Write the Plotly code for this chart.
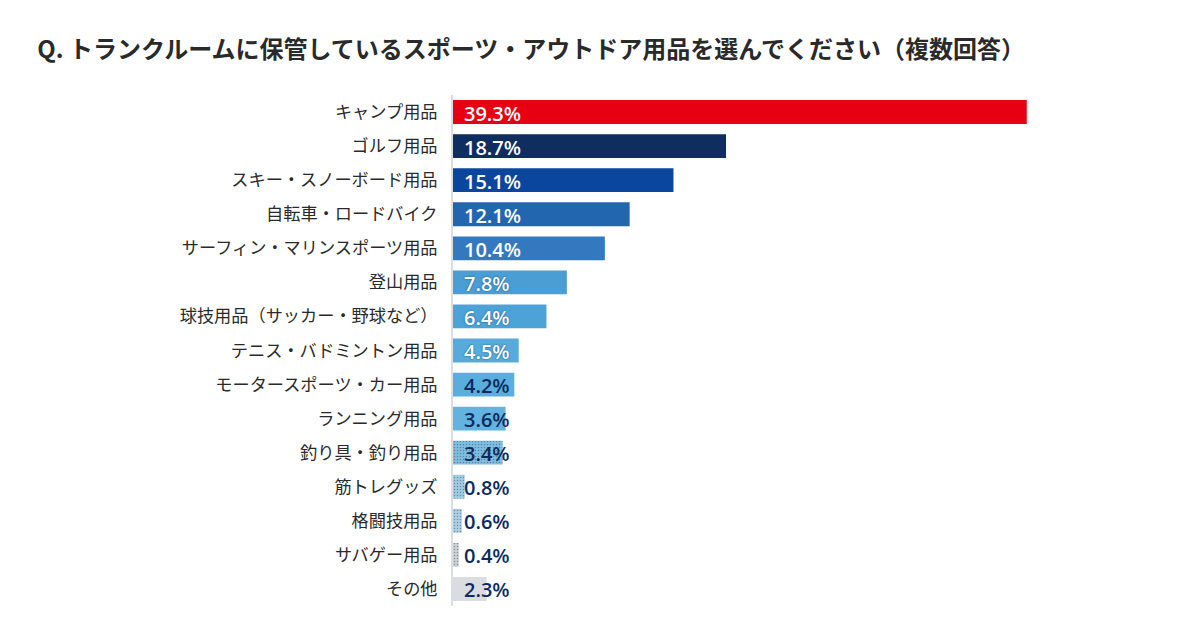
import plotly.graph_objects as go

title = "Q. トランクルームに保管しているスポーツ・アウトドア用品を選んでください（複数回答）"
categories = [
    "キャンプ用品", "ゴルフ用品", "スキー・スノーボード用品", "自転車・ロードバイク",
    "サーフィン・マリンスポーツ用品", "登山用品", "球技用品（サッカー・野球など）",
    "テニス・バドミントン用品", "モータースポーツ・カー用品", "ランニング用品",
    "釣り具・釣り用品", "筋トレグッズ", "格闘技用品", "サバゲー用品", "その他",
]
values = [39.3, 18.7, 15.1, 12.1, 10.4, 7.8, 6.4, 4.5, 4.2, 3.6, 3.4, 0.8, 0.6, 0.4, 2.3]
colors = [
    "#E60012", "#0F2D5F", "#0B469E", "#2266B0", "#3479C0", "#4A9ED4", "#4DA3D8",
    "#57ABDC", "#5AAEDD", "#62B3DF", "#7DBFE3", "#9ECDE6", "#A9D2E8", "#C9D3DA", "#D9DDE1",
]
patterns = ["", "", "", "", "", "", "", "", "", "", ".", ".", ".", ".", ""]
label_colors = ["#FFFFFF"] * 8 + ["#0D2B5E"] * 7
label_shadow = ["none"] * 5 + ["0px 0px 2px #1A4F8A"] * 3 + ["none"] * 7

fig = go.Figure()
fig.add_trace(go.Bar(
    y=categories, x=values, orientation="h",
    marker=dict(color=colors, line=dict(width=0),
                pattern=dict(shape=patterns, fgcolor="rgba(255,255,255,0.35)", size=3, solidity=0.2)),
    hoverinfo="skip",
))

for c, v, lc, sh in zip(categories, values, label_colors, label_shadow):
    fig.add_annotation(
        x=0, y=c, xref="x", yref="y", text=f"{v}%", showarrow=False,
        xanchor="left", yanchor="middle", xshift=9, yshift=-1,
        font=dict(family="Open Sans", size=20, color=lc, weight=600, shadow=sh),
    )

fig.update_layout(
    width=1200, height=630,
    margin=dict(l=453, r=90, t=95, b=24),
    paper_bgcolor="white", plot_bgcolor="white",
    bargap=0.3, showlegend=False,
    title=dict(text=title, x=0.031, xanchor="left", y=0.921, yanchor="middle",
               font=dict(family="Noto Sans CJK JP", size=24, color="#2A2A2A", weight=700)),
    xaxis=dict(range=[0, 45], visible=False, fixedrange=True),
    yaxis=dict(autorange="reversed", showline=True, linecolor="#DADDE2", linewidth=2,
               showgrid=False, ticks="", ticklabelstandoff=10,
               tickfont=dict(family="Noto Sans CJK JP", size=17.2, color="#2A2A2A", weight=400)),
)

fig.write_html("out.html")
